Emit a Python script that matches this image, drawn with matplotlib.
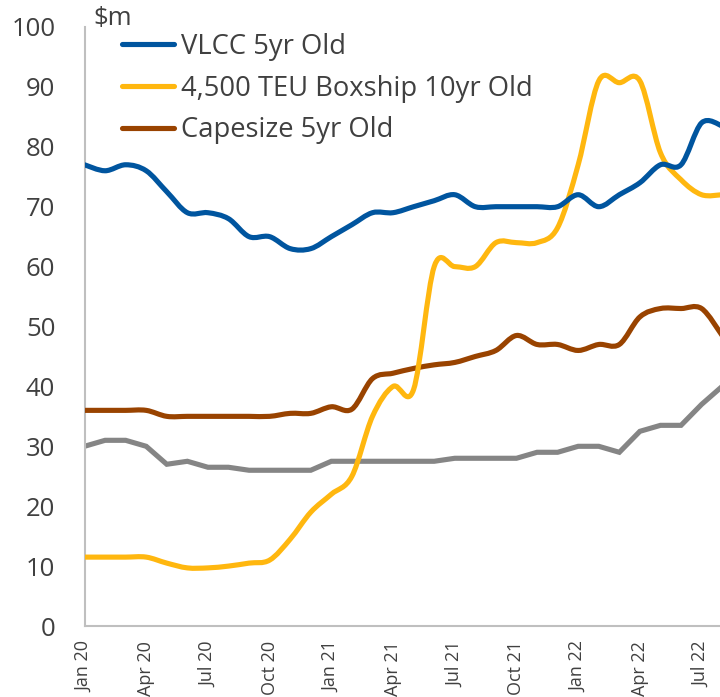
import numpy as np
import matplotlib
matplotlib.use('Agg')
import matplotlib.pyplot as plt
from matplotlib.path import Path
from matplotlib.patches import PathPatch
from matplotlib.lines import Line2D

plt.rcParams['font.family'] = ['Open Sans', 'DejaVu Sans']

# monthly values, Jan 20 .. Aug 22 ($m)
months = ['Jan 20', 'Feb 20', 'Mar 20', 'Apr 20', 'May 20', 'Jun 20', 'Jul 20', 'Aug 20',
          'Sep 20', 'Oct 20', 'Nov 20', 'Dec 20', 'Jan 21', 'Feb 21', 'Mar 21', 'Apr 21',
          'May 21', 'Jun 21', 'Jul 21', 'Aug 21', 'Sep 21', 'Oct 21', 'Nov 21', 'Dec 21',
          'Jan 22', 'Feb 22', 'Mar 22', 'Apr 22', 'May 22', 'Jun 22', 'Jul 22', 'Aug 22']
vlcc = [77, 76, 77, 76, 72.5, 69, 69, 68, 65, 65, 63, 63, 65, 67, 69, 69,
        70, 71, 72, 70, 70, 70, 70, 70, 72, 70, 72, 74, 77, 77, 84, 83.5]
boxship = [11.5, 11.5, 11.5, 11.5, 10.5, 9.7, 9.7, 10, 10.5, 11, 14.5, 19, 22, 25, 35, 40,
           39.5, 60, 60, 60, 64, 64, 64, 66.5, 77, 91, 90.7, 91, 79, 74.5, 72, 72]
capesize = [36, 36, 36, 36, 35, 35, 35, 35, 35, 35, 35.5, 35.5, 36.6, 36.2, 41.3, 42.2,
            43, 43.6, 44, 45, 46, 48.5, 47, 47, 46, 47, 47, 51.6, 53, 53, 53, 48.5]
other = [30, 31, 31, 30, 27, 27.5, 26.5, 26.5, 26, 26, 26, 26, 27.5, 27.5, 27.5, 27.5,
         27.5, 27.5, 28, 28, 28, 28, 29, 29, 30, 30, 29, 32.5, 33.5, 33.5, 37, 40]

BLUE = '#00559F'
YELLOW = '#FFB70F'
BROWN = '#994300'
GREY = '#858585'
LW = 3.7


def smooth_path(xs, ys):
    # excel-style smoothed line: bezier segments with catmull-rom control points
    x = np.asarray(xs, float)
    y = np.asarray(ys, float)
    n = len(x)
    verts = [(x[0], y[0])]
    codes = [Path.MOVETO]
    for i in range(n - 1):
        i0 = max(i - 1, 0)
        i3 = min(i + 2, n - 1)
        c1 = (x[i] + (x[i + 1] - x[i0]) / 6, y[i] + (y[i + 1] - y[i0]) / 6)
        c2 = (x[i + 1] - (x[i3] - x[i]) / 6, y[i + 1] - (y[i3] - y[i]) / 6)
        verts += [c1, c2, (x[i + 1], y[i + 1])]
        codes += [Path.CURVE4] * 3
    return Path(verts, codes)


fig = plt.figure(figsize=(7.2, 6.97), dpi=100)
ax = fig.add_axes([84.5 / 720, 1 - 626 / 697, 1 - 84.5 / 720, (626 - 27) / 697])

xi = np.arange(len(months))
ax.plot(xi, other, color=GREY, lw=LW, solid_joinstyle='miter', zorder=2)
for vals, col in [(capesize, BROWN), (boxship, YELLOW), (vlcc, BLUE)]:
    ax.add_patch(PathPatch(smooth_path(xi, vals), fill=False, edgecolor=col, lw=LW,
                           capstyle='round', joinstyle='round', zorder=3))

ax.set_xlim(0, (720 - 84.5) / 20.57)
ax.set_ylim(0, 100)
ax.set_yticks(range(0, 101, 10))
ax.set_xticks(xi[::3])
ax.set_xticklabels(months[::3], rotation=90, fontsize=13, color='#404040')
ax.tick_params(axis='y', length=0, pad=21, labelsize=18.5, labelcolor='#404040')
ax.tick_params(axis='x', length=0, pad=11)
for s in ['top', 'right']:
    ax.spines[s].set_visible(False)
for s in ['left', 'bottom']:
    ax.spines[s].set_color('#BFBFBF')
    ax.spines[s].set_linewidth(1.5)

fig.text(93 / 720, 1 - 25 / 697, '$m', fontsize=18.5, color='#404040', ha='left', va='baseline')

handles = [Line2D([], [], color=BLUE, lw=LW, solid_capstyle='round'),
           Line2D([], [], color=YELLOW, lw=LW, solid_capstyle='round'),
           Line2D([], [], color=BROWN, lw=LW, solid_capstyle='round')]
labels = ['VLCC 5yr Old', '4,500 TEU Boxship 10yr Old', 'Capesize 5yr Old']
leg = fig.legend(handles, labels, loc='upper left', bbox_to_anchor=(122 / 720, 1 - 33 / 697),
                 frameon=False, fontsize=19.7, handlelength=1.9, handletextpad=0.25,
                 labelspacing=0.5, borderpad=0, borderaxespad=0)
for t in leg.get_texts():
    t.set_color('#404040')

fig.savefig('out.png', dpi=100)
